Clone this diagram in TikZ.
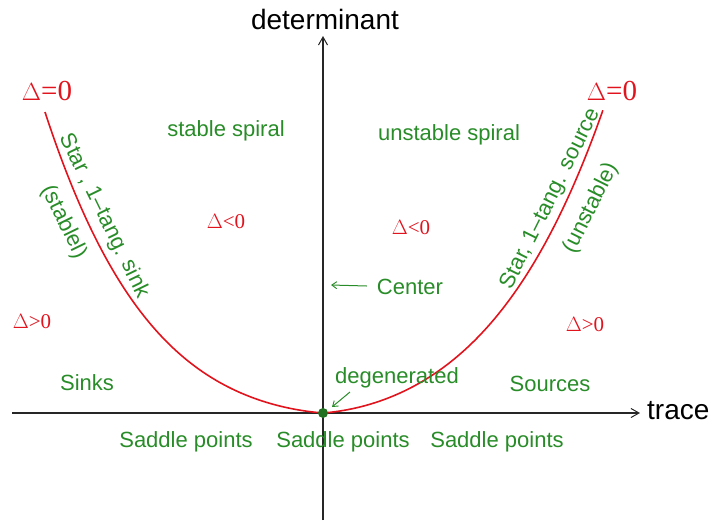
\documentclass[tikz,border=0pt]{standalone}
\usepackage{fontspec}
\setmainfont{Liberation Sans}
\newfontfamily\serifrm{Liberation Serif}
\usetikzlibrary{arrows.meta}
\definecolor{grn}{RGB}{40,140,40}
\definecolor{rd}{RGB}{225,20,30}
\begin{document}
\begin{tikzpicture}[x=1pt,y=-1pt,
  axis/.style={line width=1.1pt,black!85,-{Straight Barb[length=8pt,width=9pt,line width=1pt]}},
  lab/.style={text=grn,font=\fontsize{22}{24}\selectfont,inner sep=0pt},
  dlt/.style={text=rd,font=\serifrm\fontsize{21}{24}\selectfont,inner sep=0pt},
  bigdlt/.style={text=rd,font=\serifrm\fontsize{29}{32}\selectfont,inner sep=0pt},
  crv/.style={rd,line width=1.6pt},
  ptr/.style={grn,line width=1pt,-{Straight Barb[length=5pt,width=7pt,line width=0.9pt]}}]
\useasboundingbox (0,0) rectangle (715,520);
\coordinate (xa) at (12,413);
\coordinate (xb) at (640,413);
\coordinate (ya) at (323,520);
\coordinate (yb) at (323,36);
\coordinate (o) at (323,413);
\draw[axis] (xa) -- (xb);
\draw[axis] (ya) -- (yb);
\node[font=\fontsize{28}{30}\selectfont,inner sep=0pt] (det) at (325,19) {determinant};
\node[font=\fontsize{28}{30}\selectfont,inner sep=0pt,anchor=west] (tr) at (647,411) {trace};
% curve Delta = 0
\draw[crv] plot[domain=2.78:0,samples=90,smooth] ({323-100*\x},{413-8*\x-18.48*\x*\x-2.276*\x*\x*\x*\x}) --
  plot[domain=0:2.80,samples=90,smooth] ({323+100*\x},{413-8*\x-22.3*\x*\x-1.721*\x*\x*\x*\x});
\fill[grn!80!black] (o) circle (5);
% delta labels
\node[bigdlt] (d0l) at (47,91) {$\Delta$=0};
\node[bigdlt] (d0r) at (612,91) {$\Delta$=0};
\node[dlt] (dnl) at (226,222) {$\Delta$<0};
\node[dlt] (dnr) at (411,228) {$\Delta$<0};
\node[dlt] (dpl) at (32,322) {$\Delta$>0};
\node[dlt] (dpr) at (585,325) {$\Delta$>0};
% green labels
\node[lab] (ss) at (226,131) {stable spiral};
\node[lab] (us) at (449,135) {unstable spiral};
\node[lab] (cen) at (410,287) {Center};
\node[lab] (deg) at (397,378) {degenerated};
\node[lab] (sk) at (87,383) {Sinks};
\node[lab] (src) at (550,384) {Sources};
\node[lab] (sp1) at (186,442) {Saddle points};
\node[lab] (sp2) at (343,442) {Saddle points};
\node[lab] (sp3) at (497,442) {Saddle points};
\node[lab,rotate=-64] (sl1) at (104,216) {Star , 1–tang. sink};
\node[lab,rotate=-64] (sl2) at (64,222) {(stablel)};
\node[lab,rotate=63.5] (sr1) at (551,199) {Star, 1–tang. source};
\node[lab,rotate=63.5] (sr2) at (591,208) {(unstable)};
\coordinate (cenarr) at (331,285);
\draw[ptr] (cen.west) ++(-10,-1) -- (cenarr);
\coordinate (degarr) at (332,407);
\draw[ptr] (350,392) -- (degarr);
\end{tikzpicture}
\end{document}
